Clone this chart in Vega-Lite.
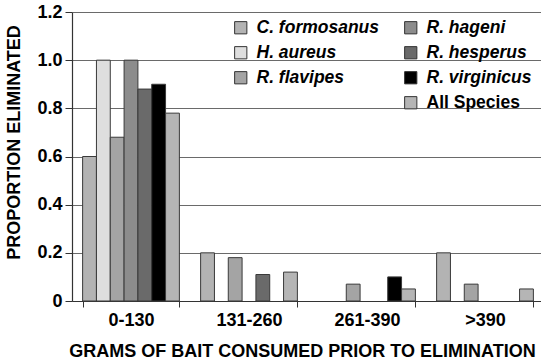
{
  "$schema": "https://vega.github.io/schema/vega-lite/v6.json",
  "autosize": {"type": "none"},
  "padding": {"left": 72, "top": 12, "right": 0, "bottom": 62},
  "width": 472,
  "height": 289,
  "background": "white",
  "config": {
    "font": "Liberation Sans",
    "view": {"stroke": null},
    "axis": {"labelFont": "Liberation Sans", "titleFont": "Liberation Sans", "labelFontWeight": "bold", "titleFontWeight": "bold", "labelColor": "#000", "titleColor": "#000"}
  },
  "data": {
    "values": [
      {"group": "0-130", "species": "C. formosanus", "value": 0.6},
      {"group": "0-130", "species": "H. aureus", "value": 1.0},
      {"group": "0-130", "species": "R. flavipes", "value": 0.68},
      {"group": "0-130", "species": "R. hageni", "value": 1.0},
      {"group": "0-130", "species": "R. hesperus", "value": 0.88},
      {"group": "0-130", "species": "R. virginicus", "value": 0.9},
      {"group": "0-130", "species": "All Species", "value": 0.78},
      {"group": "131-260", "species": "C. formosanus", "value": 0.2},
      {"group": "131-260", "species": "R. flavipes", "value": 0.18},
      {"group": "131-260", "species": "R. hesperus", "value": 0.11},
      {"group": "131-260", "species": "All Species", "value": 0.12},
      {"group": "261-390", "species": "R. flavipes", "value": 0.07},
      {"group": "261-390", "species": "R. virginicus", "value": 0.1},
      {"group": "261-390", "species": "All Species", "value": 0.05},
      {"group": ">390", "species": "C. formosanus", "value": 0.2},
      {"group": ">390", "species": "R. flavipes", "value": 0.07},
      {"group": ">390", "species": "All Species", "value": 0.05}
    ]
  },
  "encoding": {
    "x": {
      "field": "group", "type": "nominal", "sort": ["0-130", "131-260", "261-390", ">390"],
      "scale": {"paddingInner": 0.18, "paddingOuter": 0.09},
      "axis": {
        "title": "GRAMS OF BAIT CONSUMED PRIOR TO ELIMINATION", "labelAngle": 0,
        "labelFontSize": 18, "titleFontSize": 18, "tickBand": "extent",
        "tickSize": 6, "labelPadding": 4, "titlePadding": 13, "titleX": 230,
        "domainColor": "#333", "tickColor": "#333", "domainWidth": 1.2
      }
    },
    "xOffset": {
      "field": "species", "type": "nominal",
      "scale": {"domain": ["C. formosanus", "H. aureus", "R. flavipes", "R. hageni", "R. hesperus", "R. virginicus", "All Species"], "paddingInner": 0, "paddingOuter": 0}
    },
    "y": {
      "field": "value", "type": "quantitative",
      "scale": {"domain": [0, 1.2], "nice": false},
      "axis": {
        "title": "PROPORTION ELIMINATED", "values": [0, 0.2, 0.4, 0.6, 0.8, 1.0, 1.2],
        "labelExpr": "datum.value == 0 ? '0' : format(datum.value, '.1f')",
        "labelFontSize": 18, "titleFontSize": 18, "tickSize": 7, "labelPadding": 3,
        "titleX": -49, "titleY": 130,
        "grid": true, "gridColor": "#6a6a6a", "gridWidth": 1,
        "domainColor": "#333", "tickColor": "#333", "domainWidth": 1.2
      }
    }
  },
  "layer": [
    {
      "transform": [{"filter": "indexof(['C. formosanus','H. aureus','R. flavipes'], datum.species) >= 0"}],
      "mark": {"type": "bar", "stroke": "#3a3a3a", "strokeWidth": 1},
      "encoding": {
        "fill": {
          "field": "species", "type": "nominal",
          "scale": {"domain": ["C. formosanus", "H. aureus", "R. flavipes"], "range": ["#b3b3b3", "#dedede", "#a4a4a4"]},
          "legend": {
            "title": null, "orient": "none", "legendX": 160, "legendY": 7,
            "symbolType": "square", "symbolSize": 150, "symbolStrokeColor": "#333", "symbolStrokeWidth": 1,
            "labelFont": "Liberation Sans", "labelFontSize": 17.5, "labelFontWeight": "bold", "labelFontStyle": "italic",
            "labelColor": "#000", "labelOffset": 7, "rowPadding": 6, "padding": 0
          }
        }
      }
    },
    {
      "transform": [{"filter": "indexof(['R. hageni','R. hesperus','R. virginicus','All Species'], datum.species) >= 0"}],
      "mark": {"type": "bar", "stroke": "#3a3a3a", "strokeWidth": 1},
      "encoding": {
        "color": {
          "field": "species", "type": "nominal",
          "scale": {"domain": ["R. hageni", "R. hesperus", "R. virginicus", "All Species"], "range": ["#8c8c8c", "#6a6a6a", "#000000", "#b5b5b5"]},
          "legend": {
            "title": null, "orient": "none", "legendX": 330, "legendY": 7,
            "symbolType": "square", "symbolSize": 150, "symbolStrokeColor": "#333", "symbolStrokeWidth": 1, "symbolOpacity": 1,
            "labelFont": "Liberation Sans", "labelFontSize": 17.5, "labelFontWeight": "bold",
            "labelColor": "#000", "labelOffset": 7, "rowPadding": 6, "padding": 0,
            "encode": {"labels": {"update": {"fontStyle": {"signal": "datum.value === 'All Species' ? 'normal' : 'italic'"}}}}
          }
        }
      }
    }
  ]
}
